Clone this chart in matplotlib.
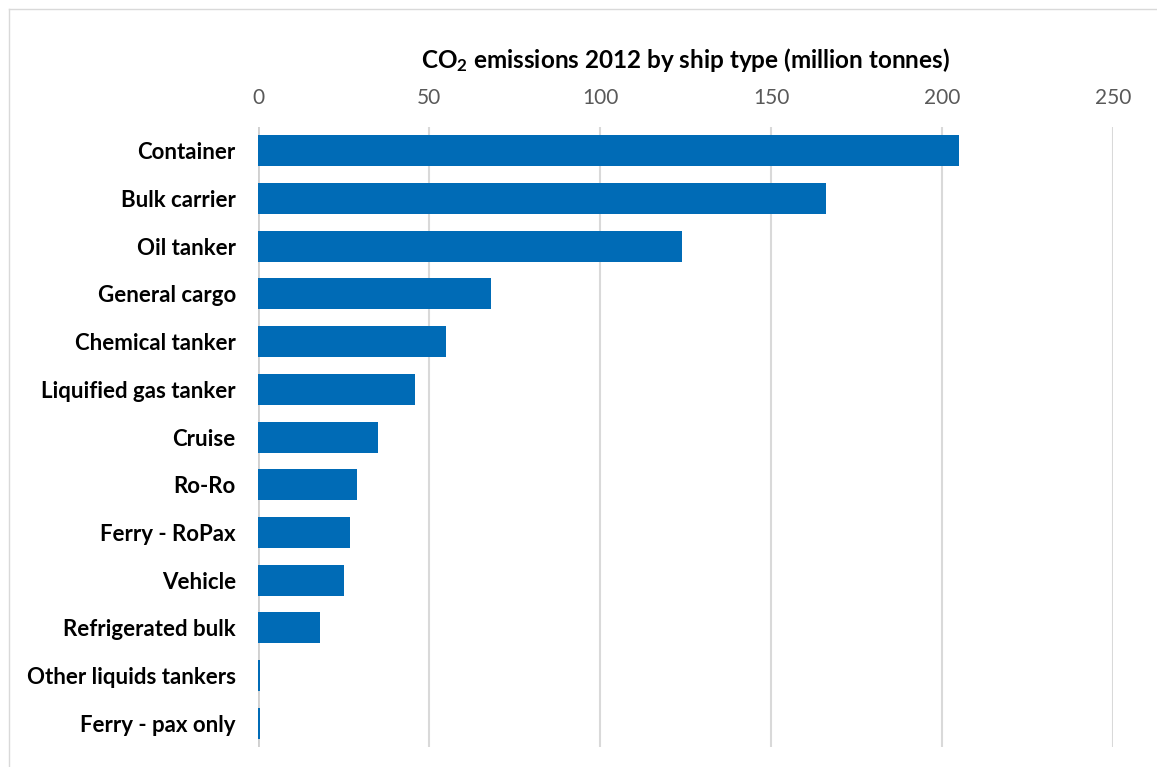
import matplotlib
matplotlib.use("Agg")
import matplotlib.pyplot as plt
from matplotlib.lines import Line2D

categories = ["Container", "Bulk carrier", "Oil tanker", "General cargo",
              "Chemical tanker", "Liquified gas tanker", "Cruise", "Ro-Ro",
              "Ferry - RoPax", "Vehicle", "Refrigerated bulk",
              "Other liquids tankers", "Ferry - pax only"]
emissions = [205, 166, 124, 68, 55, 46, 35, 29, 27, 25, 18, 0.7, 0.7]
xticks = [0, 50, 100, 150, 200, 250]
title = r"$\mathbf{CO_2}$ emissions 2012 by ship type (million tonnes)"

plt.rcParams['font.family'] = ['Lato', 'DejaVu Sans']
plt.rcParams['mathtext.fontset'] = 'custom'
plt.rcParams['mathtext.bf'] = 'Lato:bold'
plt.rcParams['mathtext.rm'] = 'Lato:bold'
plt.rcParams['mathtext.default'] = 'bf'

fig = plt.figure(figsize=(11.57, 7.67), dpi=100)
ax = fig.add_axes([258/1157, 1-747/767, (1113-258)/1157, (747-127)/767])

ypos = list(range(len(categories)))
ax.barh(ypos, emissions, height=0.65, color='#006bb6', zorder=3)
ax.set_ylim(len(categories)-0.5, -0.5)
ax.set_xlim(0, 250)
ax.set_xticks(xticks)
ax.set_xticklabels([str(t) for t in xticks])
ax.xaxis.tick_top()
ax.tick_params(axis='x', length=0, pad=14, labelsize=15, labelcolor='#595959')
ax.set_yticks(ypos)
ax.set_yticklabels(categories, fontweight='bold', fontsize=16)
ax.tick_params(axis='y', length=0, pad=16, labelcolor='black')
ax.grid(axis='x', color='#d9d9d9', linewidth=1.5, zorder=0)
for s in ax.spines.values():
    s.set_visible(False)
ax.axvline(0, color='#d0d0d0', linewidth=2, zorder=2)

fig.text((258+1113)/2/1157, 1-60/767, title, ha='center', va='center',
         fontsize=17.5, fontweight='bold', color='black')

fig.add_artist(Line2D([9/1157, 1], [1-9/767, 1-9/767], color='#d9d9d9', lw=1, transform=fig.transFigure))
fig.add_artist(Line2D([9/1157, 9/1157], [0, 1-9/767], color='#d9d9d9', lw=1, transform=fig.transFigure))

fig.savefig("out.png", dpi=100)
